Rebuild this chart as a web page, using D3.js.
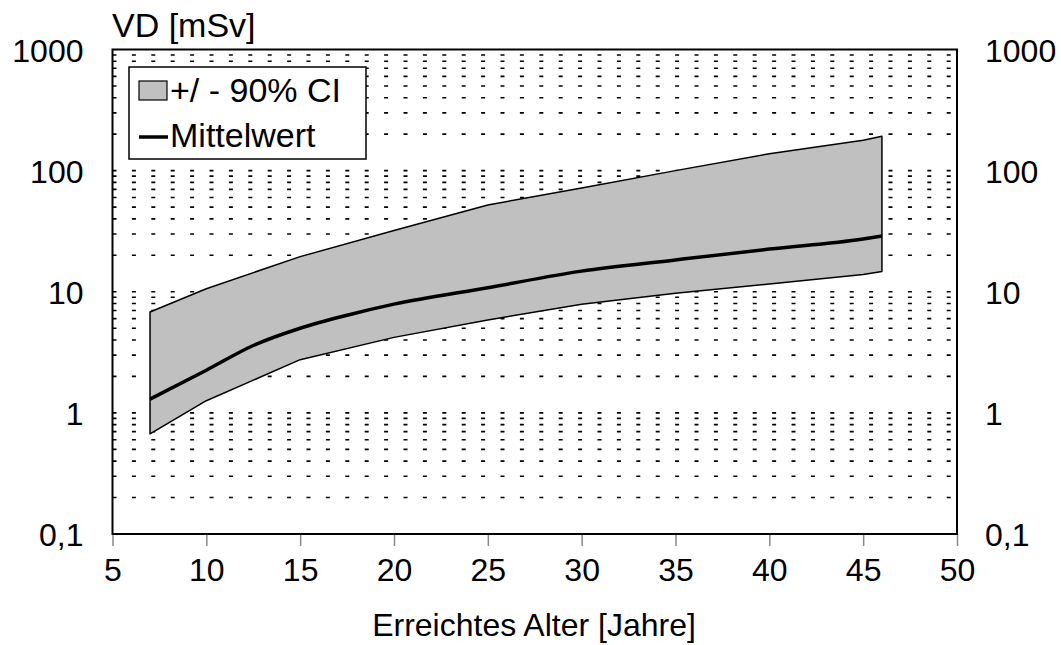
<!DOCTYPE html>
<html>
<head>
<meta charset="utf-8">
<script src="https://cdn.jsdelivr.net/npm/d3@7/dist/d3.min.js"></script>
<style>
  html, body { margin: 0; padding: 0; background: #fff; }
  svg text { font-family: "Liberation Sans", Arial, Helvetica, sans-serif; font-size: 32px; fill: #000; }
  svg text.big { font-size: 34px; }
</style>
</head>
<body>
<svg id="chart" width="1061" height="645"></svg>
<script>
// Alter (Jahre) und Dosiswerte VD [mSv]
const ageBand   = [7, 10, 15, 20, 25, 30, 35, 40, 45, 46];
const ciUpper   = [6.8, 10.6, 19.5, 32, 52, 72, 100, 138, 178, 192];
const ciLower   = [0.67, 1.26, 2.75, 4.2, 5.85, 7.9, 9.7, 11.6, 13.9, 14.7];

const ageMean   = [7, 10, 12.5, 15, 17.5, 20, 25, 30, 35, 40, 45, 46];
const meanValue = [1.30, 2.25, 3.6, 5.0, 6.4, 7.9, 10.8, 14.8, 18.3, 22.5, 27.3, 28.9];

const xTicks = [5, 10, 15, 20, 25, 30, 35, 40, 45, 50];
const yTicks = [0.1, 1, 10, 100, 1000];
const yTickLabels = ["0,1", "1", "10", "100", "1000"];
const gridValues = [0.2, 0.3, 0.4, 0.5, 0.6, 0.7, 0.8, 0.9,
                    1, 2, 3, 4, 5, 6, 7, 8, 9,
                    10, 20, 30, 40, 50, 60, 70, 80, 90,
                    100, 200, 300, 400, 500, 600, 700, 800, 900];

const legendLabels = ["+/ - 90% CI", "Mittelwert"];
const xTitle = "Erreichtes Alter [Jahre]";
const yTitle = "VD [mSv]";

const svg = d3.select("#chart");
const L = 112.5, R = 957, T = 49.5, B = 534;

const x = d3.scaleLinear().domain([5, 50]).range([L, R]);
const y = d3.scaleLog().domain([0.1, 1000]).range([B, T]);

function label(sel, px, py, str, anchor, cls) {
  return sel.append("text")
    .attr("class", cls || null)
    .attr("x", px).attr("y", py)
    .attr("text-anchor", anchor)
    .text(str);
}

// dashed horizontal grid
svg.append("g").selectAll("line").data(gridValues).join("line")
  .attr("x1", L).attr("x2", R)
  .attr("y1", d => y(d)).attr("y2", d => y(d))
  .attr("stroke", "#000").attr("stroke-width", 1.6)
  .attr("stroke-dasharray", "4 15.4");

// 90% confidence band
const bandData = ageBand.map((a, i) => ({ a, lo: ciLower[i], hi: ciUpper[i] }));
const area = d3.area().x(d => x(d.a)).y0(d => y(d.lo)).y1(d => y(d.hi));
svg.append("path").datum(bandData)
  .attr("d", area)
  .attr("fill", "#c0c0c0")
  .attr("stroke", "#000").attr("stroke-width", 1.5).attr("stroke-linejoin", "round");

// mean curve
const meanData = ageMean.map((a, i) => ({ a, v: meanValue[i] }));
svg.append("path").datum(meanData)
  .attr("d", d3.line().x(d => x(d.a)).y(d => y(d.v)).curve(d3.curveMonotoneX))
  .attr("fill", "none").attr("stroke", "#000").attr("stroke-width", 3.5);

// x axis
const xAxis = svg.append("g")
  .attr("transform", `translate(0,${B})`)
  .call(d3.axisBottom(x).tickValues(xTicks).tickSize(12).tickPadding(12).tickFormat(d3.format("d")));
xAxis.select(".domain").remove();
xAxis.selectAll(".tick line").attr("stroke", "#888").attr("stroke-width", 1.5);

// y axes (labels on both sides)
function yLabels(axisGen, px, dx, anchor) {
  const g = svg.append("g").attr("transform", `translate(${px},0)`)
    .call(axisGen.tickValues(yTicks).tickSize(0).tickFormat((d, i) => yTickLabels[i]));
  g.select(".domain").remove();
  g.selectAll(".tick text")
    .attr("x", dx).attr("dy", "0.36em")
    .attr("text-anchor", anchor);
}
yLabels(d3.axisLeft(y), L, -29, "end");
yLabels(d3.axisRight(y), R, 28, "start");

// plot frame
svg.append("rect")
  .attr("x", L).attr("y", T).attr("width", R - L).attr("height", B - T)
  .attr("fill", "none").attr("stroke", "#000").attr("stroke-width", 2);

// legend
const lg = svg.append("g");
lg.append("rect").attr("x", 129).attr("y", 67).attr("width", 237).attr("height", 92)
  .attr("fill", "#fff").attr("stroke", "#000").attr("stroke-width", 1.5);
lg.append("rect").attr("x", 139).attr("y", 81).attr("width", 28).attr("height", 19)
  .attr("fill", "#c0c0c0").attr("stroke", "#000").attr("stroke-width", 1.2);
lg.append("line").attr("x1", 139).attr("x2", 168).attr("y1", 137).attr("y2", 137)
  .attr("stroke", "#000").attr("stroke-width", 3.5);
label(lg, 170, 102, legendLabels[0], "start", "big");
label(lg, 170, 147, legendLabels[1], "start", "big");

// titles
label(svg, 112, 37, yTitle, "start", "big");
label(svg, 534, 636, xTitle, "middle");
</script>
</body>
</html>
